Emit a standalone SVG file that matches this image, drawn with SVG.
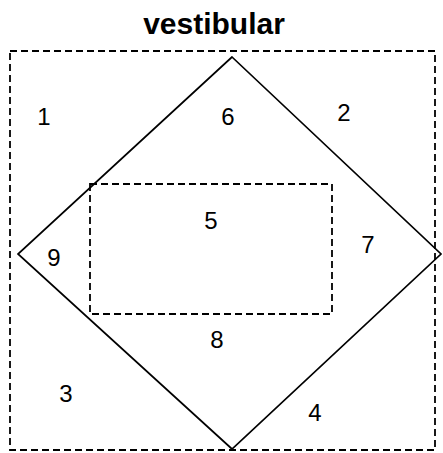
<svg xmlns="http://www.w3.org/2000/svg" width="443" height="453" viewBox="0 0 443 453">
<style>
.dash{fill:none;stroke:#000;stroke-width:1.8;stroke-dasharray:7,4}
.solid{fill:none;stroke:#000;stroke-width:1.7}
.lbl{font-family:"Liberation Sans",Arial,sans-serif;font-size:24px;fill:#000;text-anchor:middle}
.title{font-family:"Liberation Sans",Arial,sans-serif;font-size:30px;font-weight:bold;fill:#000;text-anchor:middle}
</style>
<rect width="443" height="453" fill="#fff"/>
<text class="title" x="214" y="34">vestibular</text>
<g id="connectors"></g>
<g id="outer"><rect class="dash" x="10" y="51" width="425" height="399"/></g>
<g id="diamond"><polygon class="solid" points="232,57 441,254 232,449 18,254"/></g>
<g id="inner"><rect class="dash" x="90" y="184" width="242" height="130"/></g>
<g id="labels">
<text class="lbl" x="44" y="125">1</text>
<text class="lbl" x="228" y="125">6</text>
<text class="lbl" x="344" y="121">2</text>
<text class="lbl" x="211" y="229">5</text>
<text class="lbl" x="54" y="266">9</text>
<text class="lbl" x="368" y="253">7</text>
<text class="lbl" x="217" y="348">8</text>
<text class="lbl" x="66" y="402">3</text>
<text class="lbl" x="315" y="421">4</text>
</g>
</svg>
